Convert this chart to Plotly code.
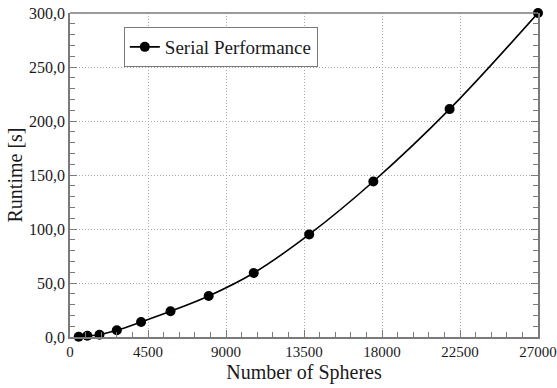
import plotly.graph_objects as go

spheres = [500, 1000, 1700, 2700, 4100, 5800, 8000, 10600, 13800, 17500, 21900, 27000]
runtime = [0.3, 1.2, 2.1, 6.2, 13.9, 23.8, 38.0, 59.3, 95.0, 144.0, 211.0, 300.0]

x_ticks = [0, 4500, 9000, 13500, 18000, 22500, 27000]
x_labels = ["0", "4500", "9000", "13500", "18000", "22500", "27000"]
y_ticks = [0, 50, 100, 150, 200, 250, 300]
y_labels = ["0,0", "50,0", "100,0", "150,0", "200,0", "250,0", "300,0"]

FONT = "'Liberation Serif', 'Times New Roman', 'DejaVu Serif', serif"
FRAME = "#7a7a7a"
TXT = "#1a1a1a"

fig = go.Figure()
fig.add_trace(go.Scatter(
    x=spheres, y=runtime, mode="lines+markers", name="Serial Performance",
    line=dict(color="black", width=1.6, shape="spline"),
    marker=dict(color="black", size=10),
    cliponaxis=False,
))
fig.add_trace(go.Scatter(x=[spheres[0]], y=[runtime[0]], yaxis="y2", mode="markers",
                         marker=dict(opacity=0), showlegend=False, hoverinfo="skip"))

axis_common = dict(
    showline=True, linecolor=FRAME, linewidth=1.5,
    ticks="inside", ticklen=7, tickcolor=FRAME, tickwidth=1,
    showgrid=True, gridcolor="#a8a8a8", griddash="1px,2px", gridwidth=1,
    zeroline=False, automargin=False,
)

fig.update_layout(
    width=557, height=388,
    margin=dict(l=70, r=19, t=13, b=51),
    paper_bgcolor="white", plot_bgcolor="white",
    font=dict(family=FONT, color=TXT),
    xaxis=dict(
        range=[0, 27000], tickmode="array", tickvals=x_ticks, ticktext=x_labels,
        tickfont=dict(family=FONT, size=15, color=TXT),
        minor=dict(ticks="inside", ticklen=5, dtick=900, tick0=0, tickcolor=FRAME, showgrid=False),
        title=dict(text="Number of Spheres", font=dict(family=FONT, size=20, color=TXT), standoff=6),
        **axis_common,
    ),
    yaxis=dict(
        range=[0, 300], tickmode="array", tickvals=y_ticks, ticktext=y_labels,
        tickfont=dict(family=FONT, size=16, color=TXT),
        minor=dict(ticks="inside", ticklen=5, dtick=10, tick0=0, tickcolor=FRAME, showgrid=False),
        title=dict(text="Runtime [s]", font=dict(family=FONT, size=20, color=TXT), standoff=1),
        **axis_common,
    ),
    yaxis2=dict(
        overlaying="y", side="right", range=[0, 300], tickmode="array", tickvals=y_ticks,
        showticklabels=False, showgrid=False, showline=True, linecolor=FRAME, linewidth=1.5,
        ticks="inside", ticklen=7, tickcolor=FRAME, zeroline=False, automargin=False,
        minor=dict(ticks="inside", ticklen=5, dtick=10, tick0=0, tickcolor=FRAME, showgrid=False),
    ),
    shapes=[dict(type="line", xref="paper", yref="paper", x0=0, x1=1, y0=1, y1=1,
                 line=dict(color=FRAME, width=1.5))],
    legend=dict(
        x=0.115, y=0.895, xanchor="left", yanchor="middle",
        bgcolor="white", bordercolor=FRAME, borderwidth=1,
        font=dict(family=FONT, size=19, color=TXT),
        itemwidth=30,
    ),
)

fig.write_html("out.html", config={"displayModeBar": False},
               post_script="document.body.style.margin='0';document.body.style.overflow='hidden';")
